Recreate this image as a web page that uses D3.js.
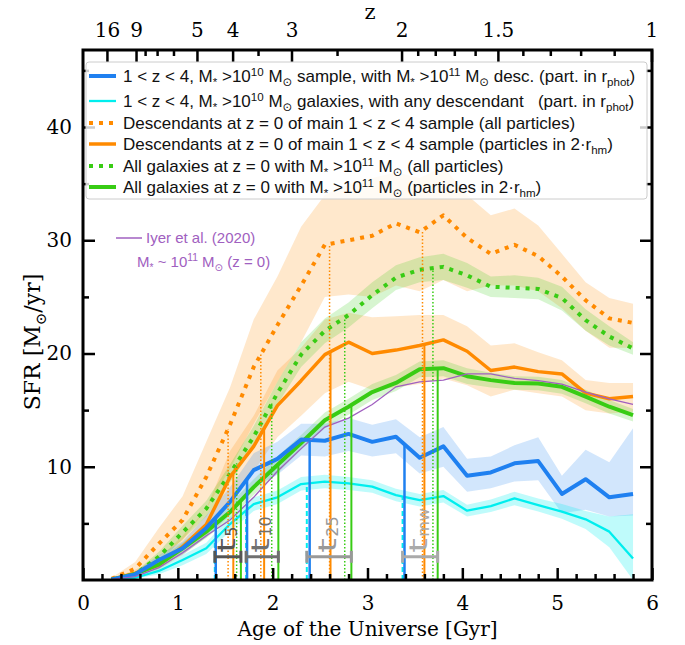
<!DOCTYPE html>
<html><head><meta charset="utf-8">
<script src="https://cdn.jsdelivr.net/npm/d3@7"></script>
<style>body{margin:0;background:#fff}text{white-space:pre}</style>
</head><body><svg id="c" width="685" height="645"></svg>
<script>
// ---------------- DATA ----------------
const times = [0.3,0.55,0.8,1.05,1.3,1.55,1.8,2.05,2.3,2.55,2.8,3.05,3.3,3.55,3.8,4.05,4.3,4.55,4.8,5.05,5.3,5.55,5.8];

const sfrBlue   = [0.05,0.5,1.76,2.8,4.6,6.9,9.7,10.7,12.4,12.3,12.9,12.2,12.65,10.8,11.8,9.2,9.5,10.3,10.5,7.6,8.9,7.3,7.6];
const blueLo    = [0,0.3,1.3,2.2,3.8,5.7,8.2,9.3,11.0,10.9,11.4,10.9,11.2,9.4,10.0,7.8,8.1,8.7,8.8,5.9,6.2,5.6,5.7];
const blueHi    = [0.1,0.7,2.2,3.4,5.7,8.2,11.2,12.2,13.8,13.8,14.3,13.7,14.2,12.6,13.5,10.7,10.9,11.9,12.6,9.2,11.5,10.4,13.4];

const sfrCyan   = [0.02,0.2,0.8,1.76,2.8,4.94,6.7,7.3,8.47,8.68,8.53,8.24,7.5,7.06,7.41,6.12,6.53,7.2,6.62,6.03,5.36,4.27,1.9];
const cyanLo    = [0,0.1,0.5,1.3,2.3,4.3,6.1,6.7,7.9,8.1,7.95,7.7,6.95,6.5,6.85,5.6,6.0,6.6,6.05,5.4,4.5,2.9,0];
const cyanHi    = [0.05,0.35,1.1,2.2,3.3,5.6,7.3,7.9,9.1,9.3,9.1,8.8,8.05,7.6,7.95,6.65,7.1,7.8,7.2,6.7,6.1,5.6,5.8];

const sfrOrangeAll = [0.1,1.0,3.2,5.3,9.1,13.7,18.8,22.5,26.0,29.6,30.0,30.4,31.5,30.7,32.2,30.2,28.8,29.6,28.6,26.8,24.7,23.1,22.7];
const orangeAllLo  = [0,0.6,2.0,3.5,6.3,9.8,13.8,17.5,21.0,25.0,25.2,25.0,26.0,25.5,26.5,25.5,26.0,26.0,25.5,24.0,22.0,20.5,20.5];
const orangeAllHi  = [0.2,1.6,4.6,7.4,12.2,17.0,23.0,26.8,31.2,34.0,35.0,35.5,36.0,35.5,36.5,34.0,32.2,32.8,31.3,28.8,26.3,24.9,24.4];

const sfrOrange = [0.05,0.6,1.3,2.94,4.9,9.1,11.8,15.4,17.6,19.9,21.0,20.0,20.3,20.7,21.2,20.2,18.5,18.8,18.4,18.2,16.5,16.0,16.2];
const orangeLo  = [0,0.3,0.9,2.2,3.8,7.2,9.6,12.6,14.5,16.5,17.5,16.8,17.0,17.3,17.8,17.2,16.2,16.8,16.5,16.2,15.0,14.7,14.85];
const orangeHi  = [0.1,0.9,1.9,3.9,6.3,11.4,14.5,18.5,20.5,23.0,23.6,23.2,23.3,23.4,23.4,22.4,20.7,20.9,20.1,19.4,17.65,17.4,17.4];

const sfrGreenAll = [0.03,0.5,2.06,4.2,6.3,9.4,12.65,16.5,19.9,22.0,23.4,25.15,26.7,27.4,27.65,26.9,25.9,25.8,25.7,24.9,22.95,21.5,20.45];
const greenAllLo  = [0,0.3,1.6,3.6,5.6,8.6,11.7,15.5,18.8,20.9,22.3,24.0,25.6,26.3,26.5,25.8,25.0,24.9,24.8,23.8,22.0,20.7,19.9];
const greenAllHi  = [0.1,0.7,2.5,4.8,7.0,10.2,13.6,17.5,21.0,23.1,24.5,26.3,27.8,28.5,28.8,28.0,26.8,26.9,26.7,25.9,23.9,22.4,21.0];

const sfrGreen  = [0.03,0.53,1.38,2.8,4.27,6.0,8.2,10.15,12.1,14.1,15.3,16.6,17.4,18.6,18.7,18.0,17.65,17.4,17.35,17.06,16.2,15.3,14.56];
const greenLo   = [0,0.35,1.0,2.3,3.7,5.4,7.5,9.4,11.5,13.4,14.6,15.9,16.7,17.9,18.0,17.3,17.0,16.8,16.75,16.45,15.6,14.7,14.0];
const greenHi   = [0.1,0.7,1.8,3.3,4.9,6.7,8.9,10.9,12.8,14.8,16.0,17.3,18.1,19.3,19.4,18.7,18.3,18.0,17.95,17.65,16.8,15.9,15.1];

const sfrIyer   = [0.05,0.3,1.1,2.4,3.9,5.3,7.3,9.6,11.6,13.5,14.3,15.5,17.06,17.5,17.65,18.2,18.2,17.8,17.6,17.3,16.6,16.0,15.5];

// formation times [Gyr] in order: cyan, blue, orangeAll, orange, greenAll, green
const t5Times  = [1.39,1.40,1.53,1.585,1.62,1.665];
const t10Times = [1.72,1.73,1.875,1.91,1.99,2.06];
const t25Times = [2.36,2.39,2.60,2.61,2.76,2.83];
const tmwTimes = [3.37,3.39,3.58,3.60,3.69,3.74];

const xTicks = [0,1,2,3,4,5,6];
const yTicks = [10,20,30,40];
const zMajor = [16,9,5,4,3,2,1.5,1];
const zMinor = [8,7,6,3.5,2.5,1.9,1.8,1.7,1.6,1.4,1.3,1.2,1.1];

// ---------------- STYLE ----------------
const C = {blue:'#1f80f0', cyan:'#00eeee', orange:'#ff8a00', green:'#38cc14', purple:'#a060c0'};
const serif = '"DejaVu Serif", serif';
const sans = '"Liberation Sans", Arial, "DejaVu Sans", sans-serif';

const svg = d3.select('#c');
const M = {l:83, r:652, t:50, b:580};
const x = d3.scaleLinear().domain([0,6]).range([M.l, M.r]);
const y = d3.scaleLinear().domain([0,46.8]).range([M.b, M.t]);

svg.append('defs').append('clipPath').attr('id','clip')
  .append('rect').attr('x',M.l).attr('y',M.t).attr('width',M.r-M.l).attr('height',M.b-M.t);
const plot = svg.append('g').attr('clip-path','url(#clip)');

const series = [
  {vals:sfrOrangeAll, lo:orangeAllLo, hi:orangeAllHi, color:C.orange, w:4, dash:'4,6', vdash:'1.5,2', vw:1.5},
  {vals:sfrOrange, lo:orangeLo, hi:orangeHi, color:C.orange, w:3.5, dash:null, vdash:null, vw:2},
  {vals:sfrGreenAll, lo:greenAllLo, hi:greenAllHi, color:C.green, w:4, dash:'4,6', vdash:'1.5,2', vw:1.5},
  {vals:sfrGreen, lo:greenLo, hi:greenHi, color:C.green, w:4, dash:null, vdash:null, vw:2},
  {vals:sfrBlue, lo:blueLo, hi:blueHi, color:C.blue, w:4, dash:null, vdash:null, vw:2.5},
  {vals:sfrCyan, lo:cyanLo, hi:cyanHi, color:C.cyan, w:2.3, dash:null, vdash:'5,3', vw:2}
];

// bands
series.forEach(s=>{
  const area = d3.area().x((d,i)=>x(times[i])).y0((d,i)=>y(s.lo[i])).y1((d,i)=>y(s.hi[i]));
  plot.append('path').attr('d', area(s.vals)).attr('fill', s.color).attr('fill-opacity', s.color===C.cyan?0.25:0.2);
});

const line = d3.line().x((d,i)=>x(times[i])).y(d=>y(d));
[0,2,1,3,4,5].forEach(k=>{
  const s = series[k];
  plot.append('path').attr('d', line(s.vals)).attr('fill','none').attr('stroke', s.color)
    .attr('stroke-width', s.w).attr('stroke-dasharray', s.dash).attr('stroke-linejoin','round');
});
plot.append('path').attr('d', line(sfrIyer)).attr('fill','none').attr('stroke', C.purple).attr('stroke-width',1.3);

// vertical formation-time markers
const order = [5,4,0,1,2,3]; // cyan, blue, orangeAll, orange, greenAll, green
const quantities = [
  {times:t5Times, label:'5', color:'#555555'},
  {times:t10Times, label:'10', color:'#707070'},
  {times:t25Times, label:'25', color:'#999999'},
  {times:tmwTimes, label:'mw', color:'#aaaaaa'}
];
quantities.forEach(q=>{
  q.times.forEach((t,j)=>{
    const s = series[order[j]];
    const f = d3.scaleLinear().domain(times).range(s.vals);
    plot.append('line').attr('x1',x(t)).attr('x2',x(t)).attr('y1',y(0)).attr('y2',y(f(t)))
      .attr('stroke', s.color).attr('stroke-width', s.vw).attr('stroke-dasharray', s.vdash);
  });
});

// grey range bars + labels
const barLevel = 2.05;
quantities.forEach(q=>{
  const [a,b] = d3.extent(q.times);
  const g = svg.append('g').attr('stroke', q.color).attr('stroke-width',3);
  const yy = y(barLevel);
  g.append('line').attr('x1',x(a)).attr('x2',x(b)).attr('y1',yy).attr('y2',yy);
  g.append('line').attr('x1',x(a)).attr('x2',x(a)).attr('y1',yy-6).attr('y2',yy+6);
  g.append('line').attr('x1',x(b)).attr('x2',x(b)).attr('y1',yy-6).attr('y2',yy+6);
  const cx = (x(a)+x(b))/2 + 7, cy = yy-4;
  svg.append('text').attr('transform',`translate(${cx},${cy}) rotate(-90) scale(1.55,1)`)
    .attr('font-family','"DejaVu Sans", sans-serif').attr('fill', q.color).attr('font-size',24).text('t');
  svg.append('text').attr('transform',`translate(${cx+2},${cy-16}) rotate(-90)`)
    .attr('font-family','"DejaVu Sans", sans-serif').attr('fill', q.color).attr('font-size',16).text(q.label);
});

// ---------------- AXES ----------------
function styleAxis(g){
  g.select('.domain').remove();
  g.selectAll('.tick line').attr('stroke','#000').attr('stroke-width',2.5);
  g.selectAll('.tick text').attr('font-family',serif).attr('font-size',20).attr('fill','#000');
}
const minorX = d3.range(0,6.01,0.2).filter(v=>Math.abs(v-Math.round(v))>1e-6);
const minorY = [5,15,25,35,45];

svg.append('g').attr('transform',`translate(0,${M.b})`)
  .call(d3.axisBottom(x).tickValues(xTicks).tickSize(-12).tickSizeOuter(0).tickPadding(16).tickFormat(d3.format('d'))).call(styleAxis);
svg.append('g').attr('transform',`translate(0,${M.b})`)
  .call(d3.axisBottom(x).tickValues(minorX).tickSize(-6).tickSizeOuter(0).tickFormat('')).call(styleAxis);
svg.append('g').attr('transform',`translate(${M.l},0)`)
  .call(d3.axisLeft(y).tickValues(yTicks).tickSize(-12).tickSizeOuter(0).tickPadding(11)).call(styleAxis);
svg.append('g').attr('transform',`translate(${M.l},0)`)
  .call(d3.axisLeft(y).tickValues(minorY).tickSize(-6).tickSizeOuter(0).tickFormat('')).call(styleAxis);
svg.append('g').attr('transform',`translate(${M.r},0)`)
  .call(d3.axisRight(y).tickValues(yTicks).tickSize(-12).tickSizeOuter(0).tickFormat('')).call(styleAxis);
svg.append('g').attr('transform',`translate(${M.r},0)`)
  .call(d3.axisRight(y).tickValues(minorY).tickSize(-6).tickSizeOuter(0).tickFormat('')).call(styleAxis);

// top redshift axis
function ageGyr(z){
  const H0=66.3, Om=0.3089, OL=1-Om, tH=977.8/H0;
  return tH*2/(3*Math.sqrt(OL))*Math.asinh(Math.sqrt(OL/Om)*Math.pow(1+z,-1.5));
}
const zMajAges = zMajor.map(ageGyr);
svg.append('g').attr('transform',`translate(0,${M.t})`)
  .call(d3.axisTop(x).tickValues(zMajAges).tickSize(-12).tickSizeOuter(0).tickPadding(13).tickFormat((d,i)=>String(zMajor[i]))).call(styleAxis);
svg.append('g').attr('transform',`translate(0,${M.t})`)
  .call(d3.axisTop(x).tickValues(zMinor.map(ageGyr)).tickSize(-6).tickSizeOuter(0).tickFormat('')).call(styleAxis);

// frame
svg.append('rect').attr('x',M.l).attr('y',M.t).attr('width',M.r-M.l).attr('height',M.b-M.t)
  .attr('fill','none').attr('stroke','#000').attr('stroke-width',3);

// axis titles
function rich(sel, segs, size){
  let shift=0;
  segs.forEach(([t,m])=>{
    const target = m==='sup' ? -0.38*size : m==='sub' ? 0.25*size : 0;
    sel.append('tspan').attr('dy', target-shift).attr('font-size', m ? size*0.68 : size).text(t);
    shift = target;
  });
}
svg.append('text').attr('x',(M.l+M.r)/2).attr('y',636).attr('text-anchor','middle')
  .attr('font-family',serif).attr('font-size',20).text('Age of the Universe [Gyr]');
svg.append('text').attr('x',370).attr('y',19).attr('text-anchor','middle')
  .attr('font-family',serif).attr('font-size',21).text('z');
const yl = svg.append('text').attr('transform','translate(40,342) rotate(-90)').attr('text-anchor','middle')
  .attr('font-family',serif);
rich(yl, [['SFR [M',''],['⊙','sub'],['/yr]','']], 22);

// ---------------- LEGEND ----------------
const leg = svg.append('g');
leg.append('rect').attr('x',86).attr('y',62).attr('width',561).attr('height',137).attr('rx',3)
  .attr('fill','#fff').attr('fill-opacity',0.8).attr('stroke','#cccccc').attr('stroke-width',1);
const legRows = [
  {s:series[4], yc:76, segs:[['1 < z < 4, M',''],['*','sub'],[' >10',''],['10','sup'],[' M',''],['⊙','sub'],[' sample, with M',''],['*','sub'],[' >10',''],['11','sup'],[' M',''],['⊙','sub'],[' desc. (part. in r',''],['phot','sub'],[')','']]},
  {s:series[5], yc:101, segs:[['1 < z < 4, M',''],['*','sub'],[' >10',''],['10','sup'],[' M',''],['⊙','sub'],[' galaxies, with any descendant   (part. in r',''],['phot','sub'],[')','']]},
  {s:series[0], yc:123, segs:[['Descendants at z = 0 of main 1 < z < 4 sample (all particles)','']]},
  {s:series[1], yc:144, segs:[['Descendants at z = 0 of main 1 < z < 4 sample (particles in 2·r',''],['hm','sub'],[')','']]},
  {s:series[2], yc:166, segs:[['All galaxies at z = 0 with M',''],['*','sub'],[' >10',''],['11','sup'],[' M',''],['⊙','sub'],[' (all particles)','']]},
  {s:series[3], yc:187, segs:[['All galaxies at z = 0 with M',''],['*','sub'],[' >10',''],['11','sup'],[' M',''],['⊙','sub'],[' (particles in 2·r',''],['hm','sub'],[')','']]}
];
legRows.forEach(r=>{
  leg.append('line').attr('x1',89).attr('x2',116).attr('y1',r.yc).attr('y2',r.yc)
    .attr('stroke',r.s.color).attr('stroke-width',r.s.w).attr('stroke-dasharray',r.s.dash);
  const t = leg.append('text').attr('x',123).attr('y',r.yc+6).attr('font-family',sans).attr('fill','#111');
  rich(t, r.segs, 17);
});

// Iyer annotation
svg.append('line').attr('x1',116).attr('x2',142).attr('y1',238).attr('y2',238).attr('stroke',C.purple).attr('stroke-width',1.5);
svg.append('text').attr('x',146).attr('y',243).attr('font-family',sans).attr('font-size',15).attr('fill',C.purple).text('Iyer et al. (2020)');
const iy = svg.append('text').attr('x',137).attr('y',267).attr('font-family',sans).attr('fill',C.purple);
rich(iy, [['M',''],['*','sub'],[' ~ 10',''],['11','sup'],[' M',''],['⊙','sub'],[' (z = 0)','']], 15);
</script></body></html>
